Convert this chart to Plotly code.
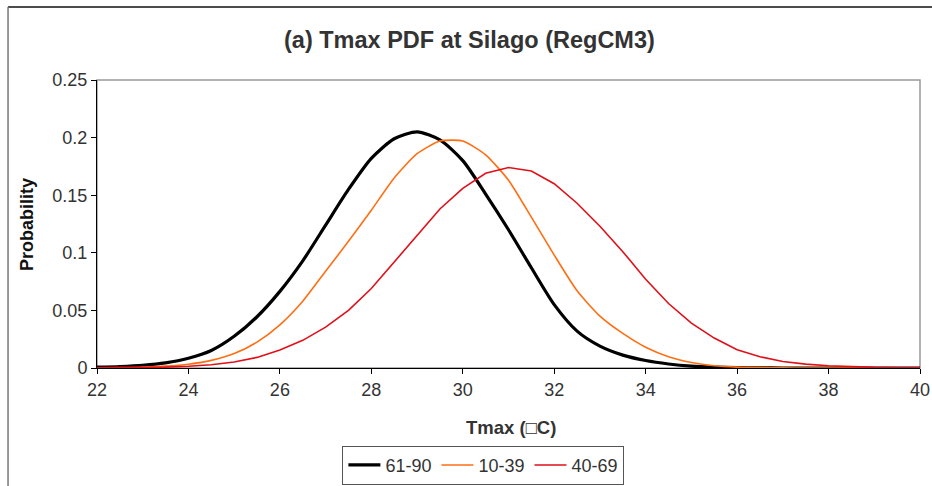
import plotly.graph_objects as go

# ---- data ----
tmax = [22, 22.5, 23, 23.5, 24, 24.5, 25, 25.5, 26, 26.5, 27, 27.5, 28, 28.5, 29, 29.5,
        30, 30.5, 31, 31.5, 32, 32.5, 33, 33.5, 34, 34.5, 35, 35.5, 36, 36.5, 37, 37.5,
        38, 38.5, 39, 39.5, 40]

p_61_90 = [0.0007, 0.0013, 0.0024, 0.0045, 0.0085, 0.0152, 0.0275, 0.0445, 0.0665, 0.093,
           0.124, 0.155, 0.182, 0.199, 0.205, 0.198, 0.180, 0.151, 0.120, 0.087,
           0.055, 0.032, 0.019, 0.0112, 0.0065, 0.0035, 0.0016, 0.0007, 0.0003, 0.0001,
           0.0, 0.0, 0.0, 0.0, 0.0, 0.0, 0.0]

p_10_39 = [0.0001, 0.0003, 0.0007, 0.0016, 0.0033, 0.0066, 0.0125, 0.0225, 0.0375, 0.058,
           0.084, 0.110, 0.137, 0.165, 0.186, 0.197, 0.197, 0.185, 0.163, 0.131,
           0.098, 0.067, 0.045, 0.030, 0.018, 0.0098, 0.0048, 0.002, 0.0008, 0.0003,
           0.0001, 0.0, 0.0, 0.0, 0.0, 0.0, 0.0]

p_40_69 = [0.0001, 0.0002, 0.0004, 0.0008, 0.0015, 0.0028, 0.0052, 0.0092, 0.0157, 0.024,
           0.0355, 0.050, 0.069, 0.092, 0.115, 0.138, 0.156, 0.169, 0.174, 0.171,
           0.160, 0.143, 0.123, 0.101, 0.077, 0.056, 0.039, 0.026, 0.0158, 0.0098,
           0.0056, 0.0034, 0.002, 0.001, 0.0005, 0.0002, 0.0001]

series_names = ["61-90", "10-39", "40-69"]
x_ticks = [22, 24, 26, 28, 30, 32, 34, 36, 38, 40]
y_ticks = [0, 0.05, 0.1, 0.15, 0.2, 0.25]

FONT = "Liberation Sans, Arial, sans-serif"

fig = go.Figure()
fig.add_trace(go.Scatter(x=tmax, y=p_61_90, mode="lines", name=series_names[0],
                         line=dict(color="#000000", width=3.2, shape="spline", smoothing=0.7)))
fig.add_trace(go.Scatter(x=tmax, y=p_10_39, mode="lines", name=series_names[1],
                         line=dict(color="#FF6E12", width=1.6, shape="spline", smoothing=0.6)))
fig.add_trace(go.Scatter(x=tmax, y=p_40_69, mode="lines", name=series_names[2],
                         line=dict(color="#E0101A", width=1.6)))

fig.update_layout(
    width=932, height=486,
    margin=dict(l=97, r=12, t=80, b=118, autoexpand=False),
    paper_bgcolor="white", plot_bgcolor="white",
    font=dict(family=FONT, size=18, color="#333333"),
    showlegend=True,
    legend=dict(orientation="h", x=0.4695, xanchor="center", y=-0.27, yanchor="top",
                bordercolor="#555555", borderwidth=1, font=dict(size=18, color="#333333"),
                itemwidth=32, tracegroupgap=0),
    xaxis=dict(range=[22, 40], tickmode="array", tickvals=x_ticks, showgrid=False,
               zeroline=False, showline=True, linecolor="black", linewidth=1,
               ticks="outside", ticklen=5, tickcolor="black", layer="below traces",
               tickfont=dict(size=18, color="#333333")),
    yaxis=dict(range=[0, 0.25], tickmode="array", tickvals=y_ticks,
               ticktext=["0", "0.05", "0.1", "0.15", "0.2", "0.25"], showgrid=False,
               zeroline=False, showline=True, linecolor="black", linewidth=1,
               ticks="outside", ticklen=5, tickcolor="black", layer="below traces",
               tickfont=dict(size=18, color="#333333")),
    shapes=[
        # plot area border (grey, top/right)
        dict(type="rect", xref="paper", yref="paper", x0=0, y0=0, x1=1, y1=1,
             line=dict(color="#999999", width=1.5), layer="below"),
        # chart frame
        dict(type="line", xref="paper", yref="paper", x0=-0.1081, x1=1.02, y0=1.2535, y1=1.2535,
             line=dict(color="#111111", width=1.5)),
        dict(type="line", xref="paper", yref="paper", x0=-0.1081, x1=-0.1081, y0=1.2535, y1=-0.42,
             line=dict(color="#777777", width=1.5)),
    ],
    annotations=[
        dict(text="<b>(a) Tmax PDF at Silago (RegCM3)</b>", xref="paper", yref="paper",
             x=0.453, y=1.139, xanchor="center", yanchor="middle", showarrow=False,
             font=dict(size=23.5, color="#333333", family=FONT)),
        dict(text="<b>Probability</b>", xref="paper", yref="paper", textangle=-90,
             x=-0.085, y=0.497, xanchor="center", yanchor="middle", showarrow=False,
             font=dict(size=18, color="#111111", family=FONT)),
        dict(text="<b>Tmax (\u25a1C)</b>", xref="paper", yref="paper",
             x=0.503, y=-0.208, xanchor="center", yanchor="middle", showarrow=False,
             font=dict(size=18.5, color="#333333", family=FONT)),
    ],
)

fig.write_html("out.html")
